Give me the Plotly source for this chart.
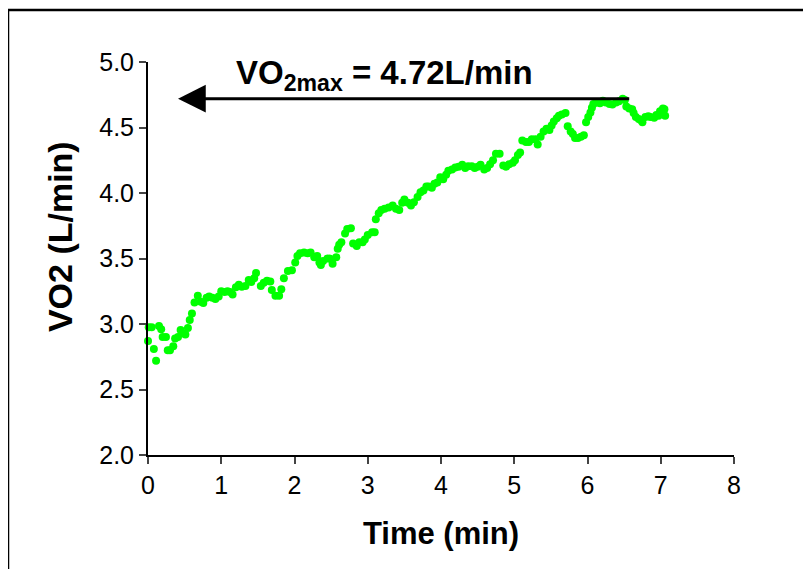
import plotly.graph_objects as go

time_min = [0.00, 0.01, 0.05, 0.08, 0.11, 0.15, 0.18, 0.20, 0.245, 0.27, 0.30, 0.345, 0.37, 0.41, 0.445,
            0.47, 0.51, 0.545, 0.57, 0.60, 0.635, 0.68, 0.72, 0.755, 0.80, 0.835, 0.88, 0.92, 0.965, 1.00,
            1.045, 1.085, 1.12, 1.155, 1.20, 1.24, 1.28, 1.33, 1.375, 1.41, 1.45, 1.475, 1.54, 1.58, 1.625,
            1.67, 1.69, 1.74, 1.79, 1.82, 1.855, 1.91, 1.965, 2.01, 2.04, 2.075, 2.13, 2.18, 2.22, 2.27,
            2.31, 2.34, 2.36, 2.39, 2.45, 2.48, 2.52, 2.57, 2.59, 2.61, 2.64, 2.69, 2.72, 2.77, 2.80,
            2.85, 2.885, 2.93, 2.96, 3.00, 3.06, 3.095, 3.11, 3.15, 3.185, 3.23, 3.285, 3.34, 3.385, 3.43,
            3.47, 3.50, 3.55, 3.59, 3.63, 3.68, 3.72, 3.76, 3.80, 3.83, 3.875, 3.91, 3.95, 3.99, 4.03,
            4.07, 4.10, 4.15, 4.195, 4.24, 4.29, 4.33, 4.37, 4.42, 4.46, 4.50, 4.54, 4.59, 4.63, 4.67,
            4.71, 4.75, 4.80, 4.85, 4.89, 4.93, 4.98, 5.01, 5.05, 5.08, 5.11, 5.16, 5.20, 5.24, 5.29,
            5.32, 5.36, 5.40, 5.44, 5.48, 5.51, 5.54, 5.58, 5.61, 5.65, 5.70, 5.73, 5.77, 5.80, 5.83,
            5.87, 5.91, 5.95, 5.98, 6.01, 6.04, 6.06, 6.08, 6.12, 6.17, 6.21, 6.25, 6.30, 6.34, 6.39,
            6.43, 6.48, 6.51, 6.53, 6.57, 6.61, 6.63, 6.66, 6.70, 6.73, 6.75, 6.79, 6.83, 6.86, 6.91,
            6.94, 6.97, 6.99, 7.03, 7.05, 7.06]

vo2 = [2.87, 2.975, 2.975, 2.81, 2.72, 2.985, 2.96, 2.90, 2.90, 2.80, 2.80, 2.83, 2.89, 2.90, 2.955,
       2.93, 2.92, 2.97, 3.03, 3.08, 3.165, 3.215, 3.17, 3.16, 3.20, 3.21, 3.20, 3.19, 3.21, 3.25,
       3.245, 3.25, 3.245, 3.225, 3.28, 3.30, 3.285, 3.29, 3.335, 3.32, 3.35, 3.39, 3.29, 3.315, 3.33,
       3.325, 3.26, 3.215, 3.215, 3.265, 3.35, 3.405, 3.41, 3.47, 3.52, 3.54, 3.545, 3.54, 3.545, 3.51,
       3.52, 3.47, 3.45, 3.48, 3.50, 3.50, 3.46, 3.51, 3.575, 3.605, 3.625, 3.69, 3.725, 3.73, 3.615,
       3.595, 3.625, 3.625, 3.645, 3.68, 3.70, 3.70, 3.80, 3.845, 3.87, 3.88, 3.89, 3.905, 3.88, 3.87,
       3.925, 3.95, 3.925, 3.905, 3.93, 3.97, 4.005, 4.02, 4.05, 4.05, 4.04, 4.07, 4.08, 4.12, 4.105,
       4.14, 4.17, 4.18, 4.195, 4.20, 4.215, 4.19, 4.205, 4.205, 4.19, 4.20, 4.215, 4.18, 4.19, 4.22,
       4.25, 4.30, 4.30, 4.21, 4.20, 4.22, 4.23, 4.25, 4.29, 4.31, 4.40, 4.39, 4.39, 4.41, 4.41,
       4.37, 4.43, 4.47, 4.49, 4.48, 4.515, 4.545, 4.57, 4.59, 4.60, 4.61, 4.51, 4.47, 4.45, 4.42,
       4.42, 4.43, 4.44, 4.54, 4.58, 4.615, 4.65, 4.68, 4.69, 4.685, 4.705, 4.69, 4.68, 4.675, 4.69,
       4.70, 4.72, 4.71, 4.66, 4.645, 4.64, 4.61, 4.58, 4.565, 4.555, 4.54, 4.58, 4.585, 4.58, 4.575,
       4.595, 4.59, 4.625, 4.645, 4.64, 4.59]

x_ticks = [0, 1, 2, 3, 4, 5, 6, 7, 8]
y_ticks = [2.0, 2.5, 3.0, 3.5, 4.0, 4.5, 5.0]
y_tick_labels = ["2.0", "2.5", "3.0", "3.5", "4.0", "4.5", "5.0"]

vo2max = 4.72
arrow_start = 6.59
arrow_end = 0.41

FONT = "Liberation Sans, Arial, sans-serif"

fig = go.Figure()
fig.add_trace(go.Scatter(
    x=time_min, y=vo2, mode="markers",
    marker=dict(color="#00ff00", size=8, line=dict(width=0)),
    cliponaxis=False, showlegend=False,
))

# arrow
fig.add_annotation(
    x=arrow_end, y=vo2max, ax=arrow_start, ay=vo2max,
    xref="x", yref="y", axref="x", ayref="y",
    text="", showarrow=True, arrowhead=2, arrowsize=1.85, arrowwidth=3,
    arrowcolor="black", standoff=0, startstandoff=0,
)
fig.add_annotation(
    x=1.18, y=4.90, xref="x", yref="y", xanchor="left", yanchor="middle",
    text="<b>VO<sub>2max</sub> = 4.72L/min</b>", showarrow=False,
    font=dict(family=FONT, size=33, color="black"),
)
# y-axis title
fig.add_annotation(
    x=-0.150, y=0.5547, xref="paper", yref="paper", xanchor="center", yanchor="middle",
    text="<b>VO2 (L/min)</b>", textangle=-90, showarrow=False,
    font=dict(family=FONT, size=34, color="black"),
)

fig.update_layout(
    width=803, height=561,
    margin=dict(l=140, r=77, t=54, b=114, autoexpand=False),
    paper_bgcolor="white", plot_bgcolor="white",
    font=dict(family=FONT, color="black"),
    shapes=[dict(type="rect", xref="paper", yref="paper",
                 x0=-0.2389, x1=1.1229, y0=-0.35, y1=1.1323,
                 line=dict(color="black", width=2.5), fillcolor="rgba(0,0,0,0)")],
)
fig.update_xaxes(
    range=[0, 8], tickvals=x_ticks, ticks="outside", ticklen=7, tickwidth=2,
    showline=True, linewidth=2, linecolor="black", showgrid=False, zeroline=False,
    tickfont=dict(size=25, family=FONT),
    title=dict(text="<b>Time (min)</b>", font=dict(size=31, family=FONT), standoff=24),
)
fig.update_yaxes(
    range=[2, 5], tickvals=y_ticks, ticktext=y_tick_labels, ticks="outside", ticklen=7, tickwidth=2,
    showline=True, linewidth=2, linecolor="black", showgrid=False, zeroline=False,
    tickfont=dict(size=25, family=FONT),
)

fig.write_html("out.html")
